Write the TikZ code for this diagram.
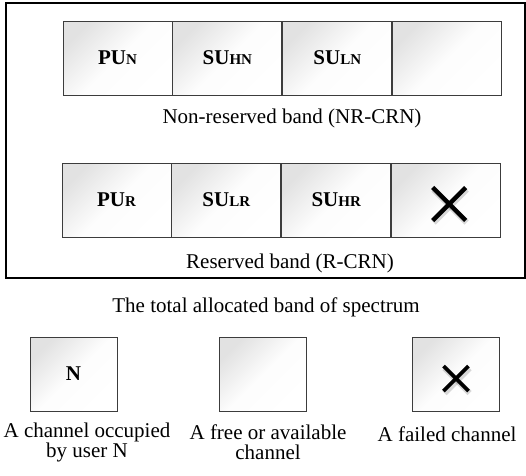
\documentclass[tikz,border=0pt]{standalone}
\usepackage{fontspec}
\setmainfont{Liberation Serif}
\usetikzlibrary{positioning}
\definecolor{cellline}{RGB}{60,60,60}
\definecolor{cellshade}{RGB}{226,226,226}
\newcommand{\chlab}[2]{\textbf{#1{\fontsize{15}{15}\selectfont #2}}}

\begin{document}
\begin{tikzpicture}[x=1pt, y=-1pt,
  cell/.style={draw=cellline, line width=0.9pt, minimum width=109pt, minimum height=74pt,
               inner sep=0pt, shading=axis, top color=cellshade, bottom color=white,
               middle color=white!92!cellshade, shading angle=45,
               font=\fontsize{21}{20}\selectfont},
  legbox/.style={cell, minimum width=87pt},
  xmark/.style={line width=4.5pt, black},
  xshadow/.style={line width=6pt, black, opacity=0.15},
  txt/.style={font=\fontsize{21}{20}\selectfont, align=center, inner sep=0pt}
]
  \useasboundingbox (0,0) rectangle (526,475);
  \draw[line width=1.8pt] (6,3) rectangle (525,278);

  % non-reserved band
  \node[cell] (n1) at (117.5,58) {\chlab{PU}{N}};
  \node[cell, right=0pt of n1] (n2) {\chlab{SU}{HN}};
  \node[cell, right=0pt of n2] (n3) {\chlab{SU}{LN}};
  \node[cell, right=0pt of n3] (n4) {};
  \node[txt] (nrtext) at (292,118) {Non-reserved band (NR-CRN)};

  % reserved band
  \node[cell] (r1) at (116.5,200) {\chlab{PU}{R}};
  \node[cell, right=0pt of r1] (r2) {\chlab{SU}{LR}};
  \node[cell, right=0pt of r2] (r3) {\chlab{SU}{HR}};
  \node[cell, right=0pt of r3] (r4) {};
  \draw[xshadow] (r4.center) ++(-13.5,-12.5) ++(1,2) -- ++(33,33);
  \draw[xshadow] (r4.center) ++(-13.5,20.5) ++(1,2) -- ++(33,-33);
  \draw[xmark] (r4.center) ++(-13.5,-12.5) -- ++(33,33);
  \draw[xmark] (r4.center) ++(-13.5,20.5) -- ++(33,-33);
  \node[txt] (rtext) at (290,263) {Reserved band (R-CRN)};

  \node[txt] (total) at (266,307) {The total allocated band of spectrum};

  % legend
  \node[legbox] (occ) at (73.5,374) {\textbf{N}};
  \node[legbox] (free) at (263,374) {};
  \node[legbox] (fail) at (455.5,374) {};
  \draw[xshadow] (fail.center) ++(-12,-8) ++(1,2) -- ++(25,25);
  \draw[xshadow] (fail.center) ++(-12,17) ++(1,2) -- ++(25,-25);
  \draw[xmark, line width=3.8pt] (fail.center) ++(-12,-8) -- ++(25,25);
  \draw[xmark, line width=3.8pt] (fail.center) ++(-12,17) -- ++(25,-25);

  \node[txt] (occtext) at (87,442) {A channel occupied\\by user N};
  \node[txt] (freetext) at (268,442) {A free or available\\channel};
  \node[txt] (failtext) at (447,434) {A failed channel};
\end{tikzpicture}
\end{document}
